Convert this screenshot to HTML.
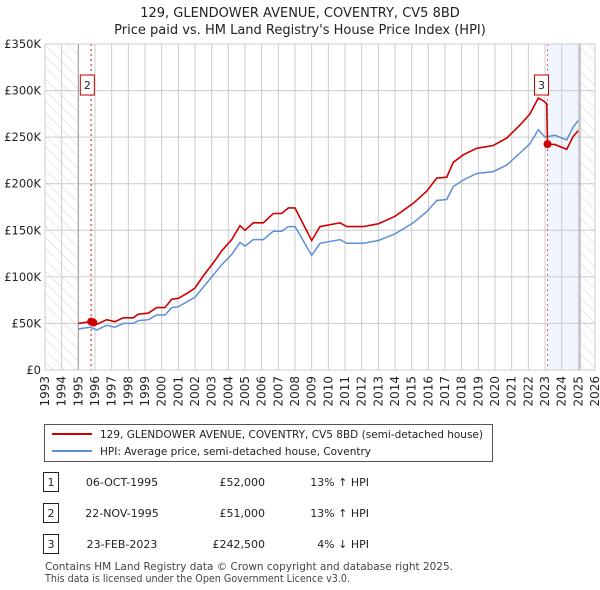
<!DOCTYPE html>
<html><head><meta charset="utf-8"><style>
body{margin:0;background:#fff;font-family:"Liberation Sans","DejaVu Sans",sans-serif;}
#wrap{position:relative;width:600px;height:590px;overflow:hidden;}
svg text{font-family:"DejaVu Sans","Liberation Sans",sans-serif;}
</style></head><body>
<div id="wrap">
<svg id="chart" width="600" height="590" xmlns="http://www.w3.org/2000/svg"></svg>
</div>
<script>
const years=[1993,1994,1995,1996,1997,1998,1999,2000,2001,2002,2003,2004,2005,2006,2007,2008,2009,2010,2011,2012,2013,2014,2015,2016,2017,2018,2019,2020,2021,2022,2023,2024,2025,2026];
const yTicks=[0,50,100,150,200,250,300,350];
const yTickLabels=["£0","£50K","£100K","£150K","£200K","£250K","£300K","£350K"];
const hpiT=[1995.0,1995.7,1996.1,1996.7,1997.2,1997.7,1998.3,1998.6,1999.2,1999.7,2000.2,2000.6,2001.0,2001.5,2002.0,2002.5,2003.1,2003.6,2004.2,2004.7,2005.0,2005.5,2006.1,2006.7,2007.2,2007.6,2008.0,2008.2,2009.0,2009.5,2010.7,2011.1,2012.1,2013.0,2014.0,2015.1,2015.9,2016.5,2017.1,2017.5,2018.1,2018.9,2019.9,2020.7,2021.5,2022.1,2022.6,2023.0,2023.6,2024.3,2024.7,2025.0];
const hpiV=[44,46,43,48,46,50,50,53,54,59,59,67,68,73,78,89,102,113,124,137,133,140,140,149,149,154,154,148,123,136,140,136,136,139,146,158,170,182,183,197,204,211,213,220,233,243,258,250,252,247,261,268];
const redT=[1995.0,1995.77,1995.9,1996.1,1996.7,1997.2,1997.7,1998.3,1998.6,1999.2,1999.7,2000.2,2000.6,2001.0,2001.5,2002.0,2002.5,2003.1,2003.6,2004.2,2004.7,2005.0,2005.5,2006.1,2006.7,2007.2,2007.6,2008.0,2008.2,2009.0,2009.5,2010.7,2011.1,2012.1,2013.0,2014.0,2015.1,2015.9,2016.5,2017.1,2017.5,2018.1,2018.9,2019.9,2020.7,2021.5,2022.1,2022.6,2022.9,2023.1,2023.15,2023.6,2024.3,2024.7,2025.0];
const redV=[50,52,51,49,54,52,56,56,60,61,67,67,76,77,82,88,101,115,128,140,155,150,158,158,168,168,174,174,167,139,154,158,154,154,157,165,179,192,206,207,223,231,238,241,249,263,275,292,289,286,242.5,242,237,251,257];
const saleT=[1995.77,1995.9,2023.15];
const saleV=[52,51,242.5];
const saleLabels=["1","2","3"];

const svg=document.getElementById('chart');
const NS='http://www.w3.org/2000/svg';
const L=45,R=595,T=44,B=370;
const x=t=>L+(t-1993)/(2026-1993)*(R-L);
const y=v=>B-v/350*(B-T);
function mk(tag,attrs,parent){const e=document.createElementNS(NS,tag);for(const k in attrs)e.setAttribute(k,attrs[k]);(parent||svg).appendChild(e);return e;}

let t1=mk('text',{x:300,y:17,'text-anchor':'middle','font-size':13,fill:'#222'});t1.textContent='129, GLENDOWER AVENUE, COVENTRY, CV5 8BD';

let t2=mk('text',{x:300,y:34,'text-anchor':'middle','font-size':13,fill:'#222'});t2.textContent="Price paid vs. HM Land Registry's House Price Index (HPI)";


const defs=mk('defs',{});
const pat=mk('pattern',{id:'hatch',width:8,height:8,patternUnits:'userSpaceOnUse',patternTransform:'rotate(-45)'},defs);
mk('line',{x1:0,y1:0,x2:0,y2:8,stroke:'#d4d4d4','stroke-width':1},pat);
let h1=mk('rect',{x:x(1993),y:T,width:x(1995)-x(1993),height:B-T,fill:'url(#hatch)'});

let h2=mk('rect',{x:x(2025.1),y:T,width:R-x(2025.1),height:B-T,fill:'url(#hatch)'});

let sh=mk('rect',{x:x(2023.15),y:T,width:x(2025.1)-x(2023.15),height:B-T,fill:'#eef3fc',opacity:0.8});


years.forEach(yr=>{
  const g=mk('line',{x1:x(yr),x2:x(yr),y1:T,y2:B,stroke:'#ccc','stroke-width':1});
  
  const tx=mk('text',{transform:`translate(${x(yr)+4},${B+6}) rotate(-90)`,'text-anchor':'end','font-size':12,fill:'#222'});
  tx.textContent=yr;
  
});
yTicks.forEach((v,i)=>{
  const g=mk('line',{x1:L,x2:R,y1:y(v),y2:y(v),stroke:'#ccc','stroke-width':1});
  
  const tx=mk('text',{x:L-4,y:y(v)+4,'text-anchor':'end','font-size':11.5,fill:'#222'});
  tx.textContent=yTickLabels[i];
  
});
mk('line',{x1:x(1995),x2:x(1995),y1:T,y2:B,stroke:'#999'});
mk('line',{x1:x(2025.1),x2:x(2025.1),y1:T,y2:B,stroke:'#999'});

const vl=[1995.77,2023.15];
vl.forEach(t=>{const l=mk('line',{x1:x(t),x2:x(t),y1:T,y2:B,stroke:'#e06060','stroke-width':t<2000?1.5:1,'stroke-dasharray':'2,3'});
});

function path(ts,vs){return ts.map((t,i)=>(i?'L':'M')+x(t).toFixed(1)+','+y(vs[i]).toFixed(1)).join('');}
let hp=mk('path',{d:path(hpiT,hpiV),fill:'none',stroke:'#5b8fd6','stroke-width':1.5});

let rp=mk('path',{d:path(redT,redV),fill:'none',stroke:'#cc0000','stroke-width':1.6});


saleT.forEach((t,i)=>{
  const c=mk('circle',{cx:x(t),cy:y(saleV[i]),r:4,fill:'#cc0000'});
  
});
[[1995.9,'2'],[2023.15,'3']].forEach(([t,lab])=>{
  const bx=x(t)-11;
  const g=mk('g',{});
  
  mk('rect',{x:bx-2,y:75,width:14,height:20,fill:'#fff',stroke:'#cc0000'},g);
  const tx=mk('text',{x:bx+5,y:89,'text-anchor':'middle','font-size':11,fill:'#222'},g);tx.textContent=lab;
});
mk('rect',{x:L,y:T,width:R-L,height:B-T,fill:'none',stroke:'#ccc'});

const lg=mk('g',{});
mk('rect',{x:44.5,y:424.5,width:448,height:37,fill:'#fff',stroke:'#555'},lg);
mk('line',{x1:52,x2:92,y1:434,y2:434,stroke:'#cc0000','stroke-width':2},lg);
let lt=mk('text',{x:100,y:438,'font-size':10.6,fill:'#222',textLength:383,lengthAdjust:'spacingAndGlyphs'},lg);lt.textContent='129, GLENDOWER AVENUE, COVENTRY, CV5 8BD (semi-detached house)';
mk('line',{x1:52,x2:92,y1:451,y2:451,stroke:'#5b8fd6','stroke-width':2},lg);
let lt2=mk('text',{x:100,y:455,'font-size':10.6,fill:'#222',textLength:271,lengthAdjust:'spacingAndGlyphs'},lg);lt2.textContent='HPI: Average price, semi-detached house, Coventry';

const rows=[['1','06-OCT-1995','£52,000','13% ↑ HPI',483],['2','22-NOV-1995','£51,000','13% ↑ HPI',514],['3','23-FEB-2023','£242,500','4% ↓ HPI',545]];
rows.forEach(r=>{
  const g=mk('g',{});
  mk('rect',{x:43.5,y:r[4]-10.5,width:15,height:19,fill:'#fff',stroke:'#222'},g);
  let a=mk('text',{x:51,y:r[4]+3,'text-anchor':'middle','font-size':11,fill:'#222'},g);a.textContent=r[0];
  let b=mk('text',{x:122,y:r[4]+3,'text-anchor':'middle','font-size':11,fill:'#222'},g);b.textContent=r[1];
  let c=mk('text',{x:265,y:r[4]+3,'text-anchor':'end','font-size':11,fill:'#222'},g);c.textContent=r[2];
  let d=mk('text',{x:369,y:r[4]+3,'text-anchor':'end','font-size':11,fill:'#222'},g);d.textContent=r[3];
});
let f1=mk('text',{x:45,y:570,'font-size':10.6,fill:'#444',textLength:408,lengthAdjust:'spacingAndGlyphs'});f1.textContent='Contains HM Land Registry data © Crown copyright and database right 2025.';

let f2=mk('text',{x:45,y:582,'font-size':10.6,fill:'#444',textLength:305,lengthAdjust:'spacingAndGlyphs'});f2.textContent='This data is licensed under the Open Government Licence v3.0.';

</script>
</body></html>
